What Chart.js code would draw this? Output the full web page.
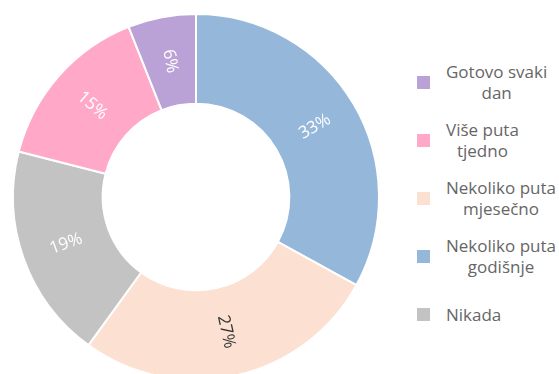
<!DOCTYPE html>
<html>
<head>
<meta charset="utf-8">
<script src="https://cdn.jsdelivr.net/npm/chart.js@4"></script>
<style>
  html, body { margin: 0; padding: 0; background: #fff; }
  body { width: 559px; height: 374px; overflow: hidden; position: relative; font-family: "Open Sans", sans-serif; }
  #wrap { position: absolute; left: 0; top: 0; width: 400px; height: 400px; }
  #legend { position: absolute; left: 417px; top: 53px; margin: 0; padding: 0; list-style: none; }
  #legend li { height: 58px; display: flex; align-items: center; }
  #legend .box { width: 13px; height: 13px; flex: none; }
  #legend .txt { margin-left: 16px; display: inline-block; text-align: center; font-size: 17px; line-height: 21px; color: #666666; white-space: nowrap; }
</style>
</head>
<body>
<div id="wrap"><canvas id="chart" width="400" height="400"></canvas></div>
<ul id="legend"></ul>
<script>
// ===== Data (clockwise from 12 o'clock) =====
const categories = ['Nekoliko puta godišnje', 'Nekoliko puta mjesečno', 'Nikada', 'Više puta tjedno', 'Gotovo svaki dan'];
const shares     = [33, 27, 19, 15, 6];
const colors     = ['#95b8da', '#fce0d2', '#c3c3c3', '#ffa8c8', '#bba2d6'];
const labelInk   = ['#ffffff', '#333333', '#ffffff', '#ffffff', '#ffffff'];
const legendOrder = ['Gotovo svaki dan', 'Više puta tjedno', 'Nekoliko puta mjesečno', 'Nekoliko puta godišnje', 'Nikada'];

// ===== Percent labels, rotated along each slice's radius =====
const sliceLabels = {
  id: 'sliceLabels',
  afterDatasetsDraw(chart) {
    const ctx = chart.ctx;
    const meta = chart.getDatasetMeta(0);
    meta.data.forEach((arc, i) => {
      const p = arc.getProps(['x', 'y', 'startAngle', 'endAngle', 'innerRadius', 'outerRadius'], true);
      const mid = (p.startAngle + p.endAngle) / 2;
      const r = (p.innerRadius + p.outerRadius) / 2;
      let rot = Math.atan2(Math.sin(mid), Math.cos(mid));
      if (rot > Math.PI / 2) rot -= Math.PI;
      if (rot < -Math.PI / 2) rot += Math.PI;
      ctx.save();
      ctx.translate(p.x + Math.cos(mid) * r, p.y + Math.sin(mid) * r);
      ctx.rotate(rot);
      ctx.font = '17px "Open Sans", sans-serif';
      ctx.fillStyle = labelInk[i];
      ctx.textAlign = 'center';
      ctx.textBaseline = 'middle';
      ctx.fillText(shares[i] + '%', 0, 0);
      ctx.restore();
    });
  }
};

new Chart(document.getElementById('chart'), {
  type: 'doughnut',
  data: {
    labels: categories,
    datasets: [{
      data: shares,
      backgroundColor: colors,
      borderColor: '#ffffff',
      borderWidth: 2,
    }],
  },
  options: {
    responsive: false,
    animation: false,
    events: [],
    cutout: '51%',
    layout: { padding: { left: 12, top: 13, right: 20, bottom: 19 } },
    plugins: {
      legend: { display: false },
      tooltip: { enabled: false },
    },
  },
  plugins: [sliceLabels],
});

// ===== Legend (long names wrap before the last word) =====
const legendEl = document.getElementById('legend');
legendEl.innerHTML = legendOrder.map(name => {
  const i = categories.indexOf(name);
  const words = name.split(' ');
  const text = words.length > 2
    ? words.slice(0, -1).join(' ') + '<br>' + words[words.length - 1]
    : name;
  return `<li><span class="box" style="background:${colors[i]}"></span><span class="txt">${text}</span></li>`;
}).join('');
</script>
</body>
</html>
